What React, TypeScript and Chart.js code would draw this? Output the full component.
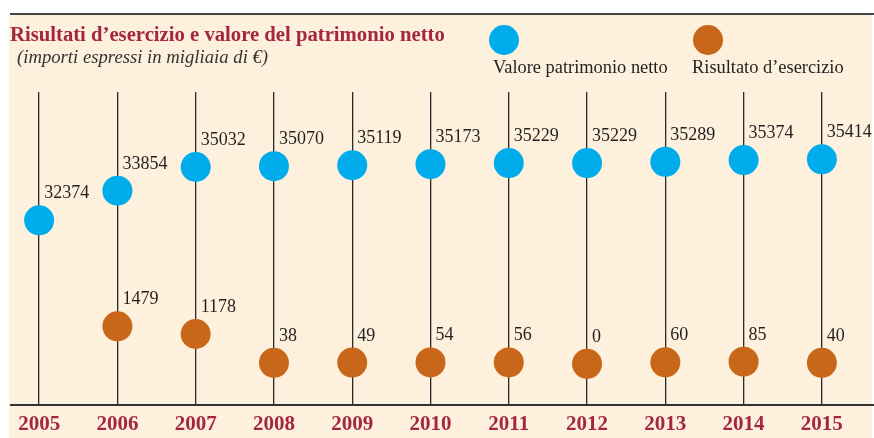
import React, { useEffect, useRef } from "react";
import { Chart, registerables } from "chart.js";

Chart.register(...registerables);

const years = ["2005", "2006", "2007", "2008", "2009", "2010", "2011", "2012", "2013", "2014", "2015"];
const patrimonioNetto = [32374, 33854, 35032, 35070, 35119, 35173, 35229, 35229, 35289, 35374, 35414];
const risultatoEsercizio = [null, 1479, 1178, 38, 49, 54, 56, 0, 60, 85, 40];

const titleText = "Risultati d\u2019esercizio e valore del patrimonio netto";
const subtitleText = "(importi espressi in migliaia di \u20AC)";
const legendBlue = "Valore patrimonio netto";
const legendOrange = "Risultato d\u2019esercizio";

const BLUE = "#00acec";
const ORANGE = "#c8661a";
const CREAM = "#fdf0dc";
const RED = "#a3283e";
const INK = "#231f20";
const SERIF = "'Liberation Serif', 'Times New Roman', serif";

const framePlugin = {
  id: "frame",
  beforeDraw(chart: any) {
    const ctx = chart.ctx;
    ctx.save();
    ctx.fillStyle = "#ffffff";
    ctx.fillRect(0, 0, chart.width, chart.height);
    ctx.fillStyle = CREAM;
    ctx.fillRect(9, 15, 863, chart.height - 15);
    ctx.strokeStyle = "#444";
    ctx.lineWidth = 2;
    ctx.beginPath();
    ctx.moveTo(10, 14);
    ctx.lineTo(874, 14);
    ctx.stroke();
    // title
    ctx.fillStyle = RED;
    ctx.font = "bold 20.7px " + SERIF;
    ctx.textAlign = "left";
    ctx.textBaseline = "alphabetic";
    ctx.fillText(titleText, 10, 41);
    ctx.fillStyle = "#333";
    ctx.font = "italic 18.7px " + SERIF;
    ctx.fillText(subtitleText, 17, 63);
    // legend
    ctx.fillStyle = BLUE;
    ctx.beginPath();
    ctx.arc(504, 40, 15, 0, Math.PI * 2);
    ctx.fill();
    ctx.fillStyle = ORANGE;
    ctx.beginPath();
    ctx.arc(708, 40, 15, 0, Math.PI * 2);
    ctx.fill();
    ctx.fillStyle = INK;
    ctx.font = "18.4px " + SERIF;
    ctx.fillText(legendBlue, 493, 73);
    ctx.fillText(legendOrange, 692, 73);
    ctx.restore();
  },
  beforeDatasetsDraw(chart: any) {
    const ctx = chart.ctx;
    ctx.save();
    ctx.strokeStyle = "#333";
    ctx.lineWidth = 2;
    ctx.beginPath();
    ctx.moveTo(10, chart.chartArea.bottom);
    ctx.lineTo(874, chart.chartArea.bottom);
    ctx.stroke();
    ctx.restore();
  },
  afterDatasetsDraw(chart: any) {
    const ctx = chart.ctx;
    ctx.save();
    ctx.fillStyle = INK;
    ctx.font = "18px " + SERIF;
    ctx.textAlign = "left";
    ctx.textBaseline = "alphabetic";
    chart.data.datasets.forEach((ds: any, di: number) => {
      const meta = chart.getDatasetMeta(di);
      meta.data.forEach((el: any, i: number) => {
        const v = ds.data[i];
        if (v === null || v === undefined) return;
        ctx.fillText(String(v), el.x + 5, el.y - 22);
      });
    });
    ctx.restore();
  },
};

export default function App() {
  const ref = useRef<HTMLCanvasElement>(null);
  useEffect(() => {
    if (!ref.current) return;
    const chart = new Chart(ref.current, {
      type: "line",
      data: {
        labels: years,
        datasets: [
          {
            label: legendBlue,
            data: patrimonioNetto,
            yAxisID: "y",
            showLine: false,
            pointRadius: 15,
            pointHoverRadius: 15,
            pointBackgroundColor: BLUE,
            pointBorderWidth: 0,
            borderColor: BLUE,
          },
          {
            label: legendOrange,
            data: risultatoEsercizio,
            yAxisID: "y2",
            showLine: false,
            pointRadius: 15,
            pointHoverRadius: 15,
            pointBackgroundColor: ORANGE,
            pointBorderWidth: 0,
            borderColor: ORANGE,
          },
        ],
      },
      options: {
        responsive: false,
        animation: false,
        devicePixelRatio: 1,
        layout: { autoPadding: false, padding: { top: 92, left: 0, right: 13, bottom: -7 } },
        plugins: { legend: { display: false }, tooltip: { enabled: false }, title: { display: false } },
        scales: {
          x: {
            type: "category",
            offset: true,
            grid: { offset: false, color: "#2a2a2a", lineWidth: 1.3, drawTicks: false, tickLength: 0 },
            border: { display: false },
            ticks: { color: RED, font: { family: SERIF, size: 21, weight: "bold" }, padding: 7.4, maxRotation: 0, autoSkip: false },
          },
          y: { display: false, min: 23173, max: 38768 },
          y2: { display: false, min: -1628, max: 10739 },
        },
      },
      plugins: [framePlugin],
    } as any);
    return () => chart.destroy();
  }, []);
  return (
    <div style={{ position: "absolute", left: 0, top: 0, width: 874, height: 438 }}>
      <canvas ref={ref} width={874} height={438} style={{ width: 874, height: 438, display: "block" }} />
    </div>
  );
}
